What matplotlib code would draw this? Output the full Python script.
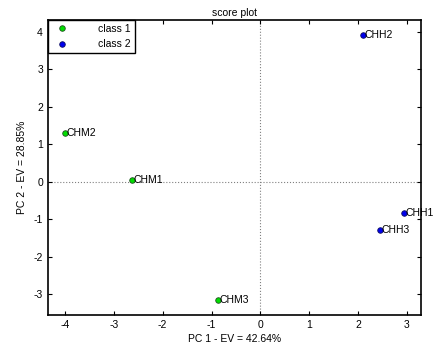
import matplotlib
matplotlib.use("Agg")
import matplotlib.pyplot as plt

plt.rcParams['font.family'] = ['Liberation Sans', 'DejaVu Sans']
plt.rcParams['axes.unicode_minus'] = False

# scores
class1_names = ['CHM1', 'CHM2', 'CHM3']
class1_pc1 = [-2.62, -4.0, -0.86]
class1_pc2 = [0.05, 1.30, -3.17]

class2_names = ['CHH1', 'CHH2', 'CHH3']
class2_pc1 = [2.94, 2.10, 2.45]
class2_pc2 = [-0.83, 3.92, -1.28]

xticks = [-4, -3, -2, -1, 0, 1, 2, 3]
yticks = [-3, -2, -1, 0, 1, 2, 3, 4]

fs = 7.5

fig = plt.figure(figsize=(4.35, 3.5), dpi=100)
ax = fig.add_axes([0.110, 0.100, 0.858, 0.843])

ax.axhline(0, color='#808080', linestyle=':', linewidth=0.8, zorder=1)
ax.axvline(0, color='#808080', linestyle=':', linewidth=0.8, zorder=1)

ax.plot(class1_pc1, class1_pc2, 'o', color='#00dd00', markeredgecolor='#205020',
        markersize=4, markeredgewidth=0.6, linestyle='none', label='class 1', zorder=3)
ax.plot(class2_pc1, class2_pc2, 'o', color='#0000ee', markeredgecolor='#101060',
        markersize=4, markeredgewidth=0.6, linestyle='none', label='class 2', zorder=3)

for n, x, y in zip(class1_names, class1_pc1, class1_pc2):
    ax.text(x + 0.03, y, n, fontsize=fs, va='center', ha='left')
for n, x, y in zip(class2_names, class2_pc1, class2_pc2):
    ax.text(x + 0.03, y, n, fontsize=fs, va='center', ha='left')

ax.set_xlim(-4.35, 3.29)
ax.set_ylim(-3.56, 4.32)
ax.set_xticks(xticks)
ax.set_yticks(yticks)
ax.tick_params(direction='in', top=True, right=True, labelsize=fs, length=3, width=0.8)
for s in ax.spines.values():
    s.set_linewidth(1.2)

ax.set_title('score plot', fontsize=fs, pad=3)
ax.set_xlabel('PC 1 - EV = 42.64%', fontsize=fs, labelpad=3)
ax.set_ylabel('PC 2 - EV = 28.85%', fontsize=fs, labelpad=5)

leg = ax.legend(loc='upper left', fontsize=fs, fancybox=False, borderaxespad=0,
                handletextpad=2.4, borderpad=0.4, labelspacing=0.5, handlelength=2.0)
leg.get_frame().set_edgecolor('black')
leg.get_frame().set_linewidth(1.0)
leg.get_frame().set_alpha(1)

fig.savefig('out.png', dpi=100)
